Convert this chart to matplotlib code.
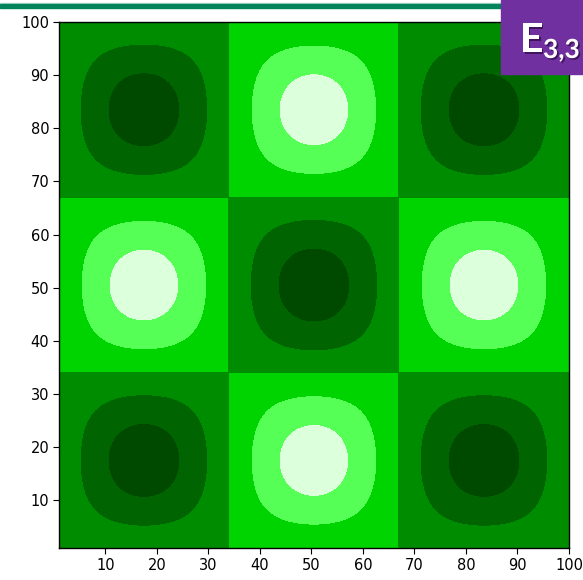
import numpy as np
import matplotlib
matplotlib.use("Agg")
from matplotlib import pyplot as plt
from matplotlib.patches import Rectangle
import matplotlib.patheffects as pe

# mode numbers of the pattern E_{m,n}
mode_m = 3
mode_n = 3
x_min, x_max = 1, 100
y_min, y_max = 1, 100

# contour levels and their fill colours (low -> high)
levels = [-1.01, -0.8, -0.4, 0.0, 0.4, 0.8, 1.01]
band_colors = ["#dcffdc", "#55ff55", "#00d400", "#008c00", "#006400", "#004a00"]

x_ticks = [10, 20, 30, 40, 50, 60, 70, 80, 90, 100]
y_ticks = [10, 20, 30, 40, 50, 60, 70, 80, 90, 100]


def plot():
    x = np.linspace(x_min, x_max, 500)
    y = np.linspace(y_min, y_max, 500)
    X, Y = np.meshgrid(x, y)
    u = (X - x_min) / (x_max - x_min)
    v = (Y - y_min) / (y_max - y_min)
    Z = np.sin(mode_m * np.pi * u) * np.sin(mode_n * np.pi * v)

    fig = plt.figure(figsize=(5.83, 5.80), dpi=100)
    ax = fig.add_axes([0.101, 0.055, 0.875, 0.907])
    ax.contourf(X, Y, Z, levels=levels, colors=band_colors, antialiased=False)
    ax.set_xlim(x_min, x_max)
    ax.set_ylim(y_min, y_max)
    ax.set_xticks(x_ticks)
    ax.set_yticks(y_ticks)
    ax.tick_params(direction="out", length=4, width=0.8, labelsize=10.5, pad=3)
    for s in ax.spines.values():
        s.set_linewidth(1.0)

    # slide decoration: green rule and purple label box
    fig.patches.append(Rectangle((0, 1 - 4 / 580), 501 / 583, 1 / 580,
                                 transform=fig.transFigure, color="#b8ddd0"))
    fig.patches.append(Rectangle((0, 1 - 8 / 580), 501 / 583, 3.5 / 580,
                                 transform=fig.transFigure, color="#00855a"))
    fig.patches.append(Rectangle((501 / 583, 1 - 74 / 580), 82 / 583, 74 / 580,
                                 transform=fig.transFigure, color="#7030a0"))
    shadow = [pe.withSimplePatchShadow(offset=(1.2, -1.2), shadow_rgbFace="#2a0a40", alpha=0.7)]
    fig.text(520 / 583, 1 - 52 / 580, "E", color="white", fontsize=29,
             fontweight="bold", family="Lato", ha="left", va="baseline",
             path_effects=shadow)
    fig.text(543 / 583, 1 - 58 / 580, "3,3", color="white", fontsize=19,
             fontweight="bold", family="Lato", ha="left", va="baseline",
             path_effects=shadow)

    fig.savefig("out.png", dpi=100)
    plt.close(fig)


if __name__ == "__main__":
    plot()
